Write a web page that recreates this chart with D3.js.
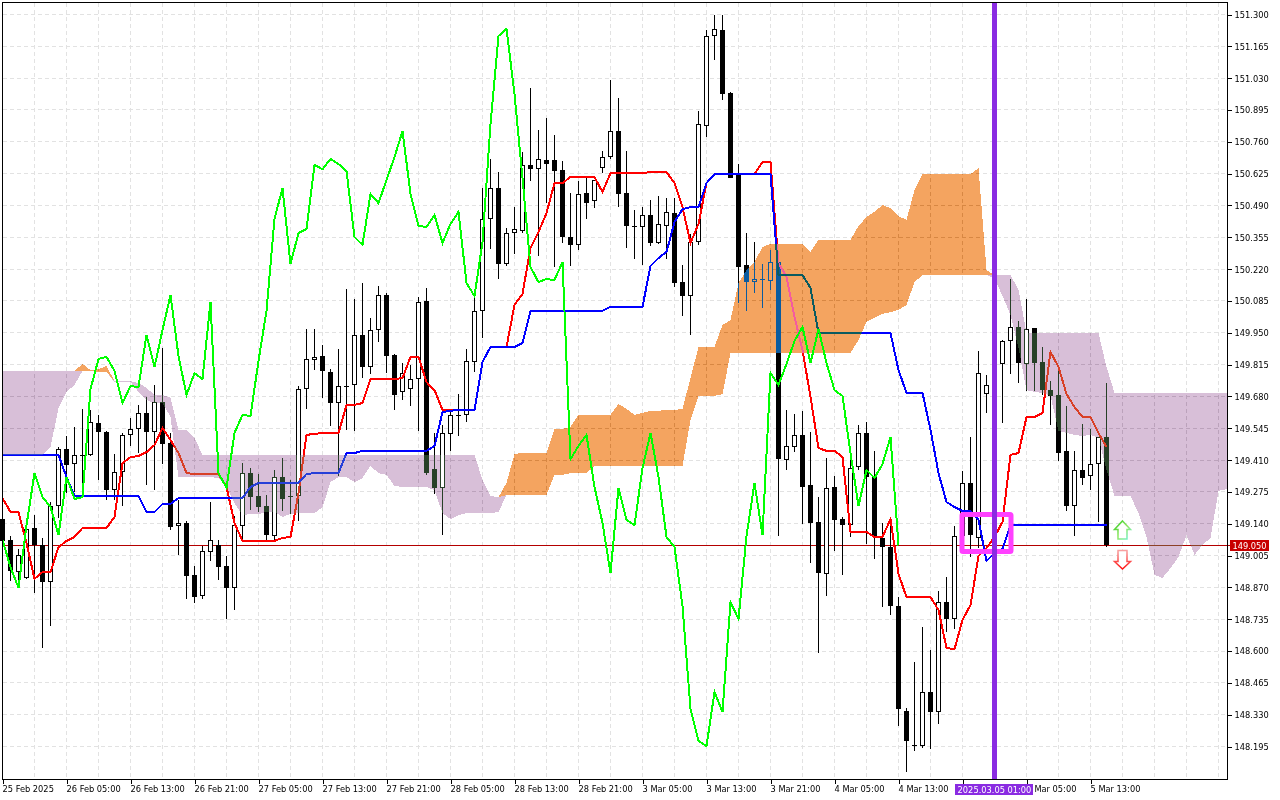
<!DOCTYPE html>
<html>
<head>
<meta charset="utf-8">
<script src="https://cdnjs.cloudflare.com/ajax/libs/d3/7.8.5/d3.min.js"></script>
<style>
  html, body { margin: 0; padding: 0; background: #fff; }
  svg { display: block; }
  text { font-family: "DejaVu Sans Condensed", "DejaVu Sans", sans-serif; font-stretch: condensed; font-size: 9.2px; fill: #000; }
</style>
</head>
<body>
<svg id="chart" width="1280" height="800"></svg>
<script>
// hourly candles, one row per ten bars
const open = [
  149.162,149.073,148.937,148.912,149.124,149.052,148.895,149.217,149.459,149.395,
  149.434,149.434,149.569,149.531,149.285,149.361,149.519,149.544,149.612,149.531,
  149.659,149.485,149.132,149.145,148.925,148.836,149.022,149.052,148.963,148.870,
  149.132,149.357,149.260,149.217,149.090,149.340,149.260,149.260,149.713,149.841,
  149.854,149.786,149.654,149.726,149.731,149.943,149.807,149.964,150.112,149.858,
  149.701,149.713,149.756,150.087,149.374,149.294,149.523,149.604,149.604,149.828,
  150.045,150.435,150.566,150.244,150.375,150.384,150.664,150.646,150.685,150.685,
  150.642,150.358,150.325,150.545,150.511,150.651,150.697,150.808,150.545,150.405,
  150.401,150.452,150.333,150.405,150.460,150.167,150.108,150.337,150.830,151.211,
  151.236,150.969,150.621,150.240,150.167,150.180,150.172,150.252,149.412,149.467,
  149.519,149.306,149.150,148.929,149.298,149.162,149.136,149.382,149.527,149.340,
  149.082,149.043,148.793,148.348,148.204,148.199,148.428,148.343,148.810,148.738,
  149.090,149.315,149.082,149.692,149.692,149.820,149.917,149.977,149.820,149.973,
  149.828,149.709,149.688,149.451,149.217,149.370,149.344,149.395,149.510
];
const high = [
  149.209,149.090,149.035,149.119,149.179,149.082,149.234,149.467,149.514,149.553,
  149.629,149.625,149.604,149.536,149.438,149.527,149.591,149.646,149.680,149.731,
  149.888,149.527,149.243,149.154,148.963,149.048,149.234,149.073,149.005,149.175,
  149.399,149.378,149.353,149.264,149.370,149.421,149.328,149.726,149.968,149.968,
  149.900,149.798,149.883,150.138,150.095,150.163,150.015,150.151,150.121,149.862,
  149.824,149.816,150.104,150.142,149.527,149.561,149.625,149.692,149.883,150.112,
  150.566,150.689,150.634,150.397,150.485,150.719,150.990,150.812,150.863,150.791,
  150.681,150.545,150.596,150.608,150.600,150.723,151.024,150.948,150.723,150.473,
  150.485,150.515,150.532,150.524,150.524,150.240,150.371,150.893,151.236,151.300,
  151.300,150.974,150.668,150.375,150.337,150.244,150.303,150.252,149.625,149.608,
  149.621,149.531,149.255,149.421,149.344,149.171,149.416,149.561,149.574,149.451,
  149.145,149.158,148.831,148.360,148.556,148.704,148.606,148.857,148.916,149.132,
  149.365,149.510,149.875,149.773,149.845,149.922,150.180,150.002,150.095,149.973,
  149.892,149.747,149.816,149.642,149.451,149.565,149.544,149.510,149.739
];
const low = [
  148.988,148.899,148.874,148.908,148.848,148.615,148.709,149.167,149.272,149.277,
  149.285,149.429,149.328,149.243,149.243,149.217,149.472,149.442,149.306,149.285,
  149.395,149.115,149.010,148.823,148.806,148.823,148.984,148.903,148.738,148.776,
  149.073,149.200,149.192,149.073,149.073,149.196,149.183,149.154,149.629,149.794,
  149.676,149.557,149.344,149.540,149.536,149.760,149.777,149.913,149.781,149.625,
  149.667,149.642,149.536,149.349,149.268,149.094,149.451,149.514,149.574,149.786,
  149.930,150.307,150.180,150.235,150.286,150.375,150.596,150.278,150.502,150.231,
  150.333,150.235,150.303,150.435,150.481,150.629,150.689,150.485,150.312,150.265,
  150.240,150.320,150.329,150.265,150.147,150.024,149.943,150.325,150.783,151.109,
  150.939,150.608,150.078,150.045,150.121,150.057,150.134,149.090,149.370,149.446,
  149.141,148.975,148.594,148.836,149.027,148.925,149.086,149.370,149.056,148.992,
  148.789,148.755,148.284,148.089,148.178,148.191,148.187,148.293,148.683,148.695,
  149.086,149.001,149.039,149.612,149.676,149.569,149.777,149.739,149.705,149.705,
  149.688,149.561,149.408,149.196,149.090,149.306,149.285,149.150,149.043
];
const close = [
  149.069,148.942,149.010,149.119,149.052,148.895,149.217,149.459,149.391,149.434,
  149.429,149.574,149.531,149.285,149.361,149.519,149.544,149.612,149.531,149.659,
  149.480,149.128,149.145,148.920,148.831,149.027,149.073,148.958,148.870,149.136,
  149.357,149.255,149.213,149.094,149.340,149.247,149.255,149.713,149.841,149.850,
  149.790,149.654,149.726,149.722,149.943,149.807,149.964,150.112,149.854,149.688,
  149.781,149.756,150.083,149.357,149.294,149.527,149.604,149.599,149.833,150.045,
  150.435,150.566,150.244,150.375,150.392,150.664,150.646,150.689,150.668,150.638,
  150.358,150.325,150.541,150.502,150.600,150.697,150.808,150.541,150.405,150.401,
  150.452,150.333,150.414,150.465,150.163,150.108,150.337,150.838,151.211,151.241,
  150.965,150.608,150.231,150.167,150.180,150.176,150.252,149.416,149.472,149.519,
  149.298,149.145,148.933,149.294,149.158,149.136,149.378,149.527,149.340,149.086,
  149.043,148.793,148.356,148.221,148.199,148.428,148.343,148.810,148.738,149.090,
  149.315,149.094,149.781,149.731,149.820,149.917,149.977,149.824,149.968,149.824,
  149.709,149.684,149.442,149.217,149.370,149.336,149.395,149.510,149.050
];

const tenkan = [
  149.251,149.192,149.192,149.060,148.908,148.937,148.937,149.043,149.069,149.086,
  149.124,149.124,149.124,149.124,149.171,149.399,149.425,149.429,149.446,149.476,
  149.548,149.497,149.442,149.357,149.353,149.353,149.353,149.353,149.298,149.145,
  149.069,149.069,149.069,149.069,149.069,149.082,149.086,149.272,149.519,149.523,
  149.527,149.527,149.527,149.646,149.646,149.654,149.756,149.756,149.756,149.756,
  149.760,149.850,149.850,149.743,149.709,149.625,149.625,149.625,149.625,149.625,
  149.828,149.892,149.892,149.892,150.070,150.117,150.312,150.379,150.460,150.587,
  150.587,150.613,150.613,150.613,150.613,150.549,150.629,150.629,150.629,150.629,
  150.629,150.634,150.634,150.634,150.587,150.485,150.333,150.414,150.587,150.625,
  150.625,150.625,150.625,150.625,150.625,150.676,150.676,150.248,150.189,150.019,
  149.879,149.680,149.463,149.451,149.451,149.425,149.107,149.107,149.107,149.086,
  149.086,149.162,148.929,148.831,148.831,148.831,148.831,148.776,148.615,148.610,
  148.734,148.797,149.005,149.039,149.086,149.150,149.434,149.442,149.595,149.595,
  149.612,149.871,149.807,149.692,149.637,149.595,149.595,149.527,149.467
];
const kijun = [
  149.434,149.434,149.434,149.434,149.434,149.434,149.434,149.434,149.340,149.260,
  149.260,149.260,149.260,149.260,149.260,149.260,149.260,149.260,149.192,149.192,
  149.226,149.226,149.251,149.251,149.251,149.251,149.251,149.251,149.251,149.251,
  149.251,149.298,149.315,149.315,149.315,149.315,149.315,149.315,149.353,149.357,
  149.357,149.357,149.357,149.442,149.442,149.451,149.451,149.451,149.451,149.451,
  149.451,149.451,149.451,149.451,149.472,149.616,149.621,149.625,149.625,149.625,
  149.828,149.892,149.892,149.892,149.892,149.909,150.045,150.045,150.045,150.045,
  150.045,150.045,150.045,150.045,150.045,150.045,150.062,150.062,150.062,150.062,
  150.062,150.235,150.269,150.295,150.422,150.477,150.485,150.485,150.587,150.625,
  150.625,150.625,150.625,150.625,150.625,150.625,150.625,150.197,150.197,150.197,
  150.197,150.142,149.951,149.951,149.951,149.951,149.951,149.951,149.951,149.951,
  149.951,149.951,149.794,149.697,149.697,149.697,149.540,149.357,149.234,149.213,
  149.196,149.196,149.158,148.984,149.018,149.035,149.136,149.136,149.136,149.136,
  149.136,149.136,149.136,149.136,149.136,149.136,149.136,149.136,149.136
];
// closes plotted 26 bars back
const chikou = [
  149.073,148.958,148.870,149.136,
  149.357,149.255,149.213,149.094,149.340,149.247,149.255,149.713,149.841,149.850,
  149.790,149.654,149.726,149.722,149.943,149.807,149.964,150.112,149.854,149.688,
  149.781,149.756,150.083,149.357,149.294,149.527,149.604,149.599,149.833,150.045,
  150.435,150.566,150.244,150.375,150.392,150.664,150.646,150.689,150.668,150.638,
  150.358,150.325,150.541,150.502,150.600,150.697,150.808,150.541,150.405,150.401,
  150.452,150.333,150.414,150.465,150.163,150.108,150.337,150.838,151.211,151.241,
  150.965,150.608,150.231,150.167,150.180,150.176,150.252,149.416,149.472,149.519,
  149.298,149.145,148.933,149.294,149.158,149.136,149.378,149.527,149.340,149.086,
  149.043,148.793,148.356,148.221,148.199,148.428,148.343,148.810,148.738,149.090,
  149.315,149.094,149.781,149.731,149.820,149.917,149.977,149.824,149.968,149.824,
  149.709,149.684,149.442,149.217,149.370,149.336,149.395,149.510,149.050
];
// cloud runs 26 bars past the last candle, cut at the chart edge
const spanA = [
  149.434,149.434,149.434,149.434,149.434,149.434,149.467,149.633,149.701,149.731,
  149.820,149.794,149.798,149.811,149.743,149.743,149.743,149.701,149.667,149.654,
  149.654,149.595,149.340,149.340,149.340,149.340,149.340,149.336,149.298,149.230,
  149.179,149.183,149.183,149.192,149.192,149.171,149.183,149.187,149.187,149.187,
  149.213,149.319,149.340,149.340,149.319,149.336,149.387,149.357,149.349,149.302,
  149.298,149.298,149.298,149.298,149.285,149.187,149.162,149.179,149.187,149.187,
  149.187,149.187,149.192,149.315,149.438,149.442,149.442,149.442,149.442,149.544,
  149.544,149.553,149.604,149.604,149.604,149.604,149.604,149.650,149.629,149.604,
  149.612,149.621,149.621,149.625,149.625,149.629,149.760,149.892,149.892,149.892,
  149.985,150.006,150.163,150.218,150.252,150.316,150.329,150.329,150.329,150.329,
  150.329,150.295,150.346,150.346,150.346,150.346,150.346,150.405,150.443,150.465,
  150.494,150.481,150.447,150.431,150.558,150.625,150.625,150.625,150.625,150.625,
  150.625,150.625,150.651,150.218,150.184,150.108,150.028,149.888,149.709,149.701,
  149.697,149.684,149.536,149.527,149.519,149.514,149.519,149.506,149.370,149.260,
  149.260,149.260,149.187,149.086,148.925,148.912,148.954,149.001,149.094,149.010,
  149.052,149.082,149.281,149.289
];
const spanB = [
  149.790,149.790,149.790,149.790,149.790,149.790,149.790,149.790,149.790,149.790,
  149.790,149.790,149.786,149.786,149.747,149.747,149.747,149.739,149.718,149.688,
  149.688,149.676,149.540,149.540,149.506,149.434,149.434,149.434,149.434,149.434,
  149.434,149.434,149.434,149.434,149.434,149.434,149.434,149.434,149.434,149.434,
  149.434,149.434,149.434,149.434,149.434,149.434,149.434,149.434,149.434,149.434,
  149.434,149.434,149.434,149.434,149.434,149.434,149.434,149.434,149.434,149.434,
  149.328,149.260,149.255,149.264,149.264,149.264,149.264,149.264,149.264,149.349,
  149.349,149.357,149.357,149.357,149.387,149.387,149.387,149.387,149.387,149.387,
  149.387,149.387,149.387,149.387,149.387,149.387,149.582,149.684,149.684,149.684,
  149.692,149.866,149.866,149.866,149.866,149.866,149.866,149.866,149.866,149.866,
  149.866,149.866,149.866,149.866,149.866,149.866,149.866,149.922,149.998,150.015,
  150.032,150.040,150.049,150.070,150.167,150.197,150.197,150.197,150.197,150.197,
  150.197,150.197,150.197,150.197,150.197,150.197,150.197,150.134,149.951,149.951,
  149.951,149.951,149.951,149.951,149.951,149.951,149.951,149.951,149.807,149.697,
  149.697,149.697,149.697,149.697,149.697,149.697,149.697,149.697,149.697,149.697,
  149.697,149.697,149.697,149.697
];

const priceTicks = [
  151.300,151.165,151.030,150.895,150.760,150.625,150.490,150.355,150.220,150.085,149.950,149.815,
  149.680,149.545,149.410,149.275,149.140,149.005,148.870,148.735,148.600,148.465,148.330,148.195
];
const timeLabels = [
  '25 Feb 2025','26 Feb 05:00','26 Feb 13:00','26 Feb 21:00','27 Feb 05:00','27 Feb 13:00',
  '27 Feb 21:00','28 Feb 05:00','28 Feb 13:00','28 Feb 21:00','3 Mar 05:00','3 Mar 13:00',
  '3 Mar 21:00','4 Mar 05:00','4 Mar 13:00','','5 Mar 05:00','5 Mar 13:00'
];
const lastPrice = 149.050;
const markedBar = 124;
const markedTime = '2025.03.05 01:00';
const boxBars = [120, 126];
const boxPrices = [149.181, 149.024];
const signalBar = 140;
const upSignalPrice = 149.154;
const downSignalPrice = 148.950;

const plot = { left: 2, top: 2, right: 1227, bottom: 779 };
const barStep = 8;
const bars = d3.range(open.length);
const cloudBars = d3.range(spanA.length);

const x = d3.scaleLinear().domain([0, 153]).range([plot.left, plot.left + 153 * barStep]);
const y = d3.scaleLinear().domain([151.3, 148.195]).range([15, 747]);
const xc = i => x(i) + 0.5;

const svg = d3.select('#chart');
svg.append('rect').attr('width', 1280).attr('height', 800).attr('fill', '#fff');

const defs = svg.append('defs');

// grid
const grid = svg.append('g').attr('shape-rendering', 'crispEdges')
  .attr('stroke', '#e2e2e2').attr('stroke-dasharray', '4,3');
grid.selectAll('.h').data(priceTicks).join('line').attr('class', 'h')
  .attr('x1', plot.left + 1).attr('x2', plot.right)
  .attr('y1', d => Math.round(y(d)) - 0.5).attr('y2', d => Math.round(y(d)) - 0.5);
grid.selectAll('.v').data(d3.range(4, 153, 4)).join('line').attr('class', 'v')
  .attr('y1', plot.top + 1).attr('y2', plot.bottom)
  .attr('x1', xc).attr('x2', xc);

// price line sits behind the candles
svg.append('line').attr('x1', plot.left).attr('x2', plot.right + 4)
  .attr('y1', Math.floor(y(lastPrice)) + 0.5).attr('y2', Math.floor(y(lastPrice)) + 0.5)
  .attr('stroke', '#b40000').attr('shape-rendering', 'crispEdges');

// candles
const candles = svg.append('g').attr('shape-rendering', 'crispEdges');
candles.selectAll('line').data(bars).join('line')
  .attr('x1', xc).attr('x2', xc)
  .attr('y1', i => y(high[i])).attr('y2', i => y(low[i]))
  .attr('stroke', '#000');
const isUp = i => close[i] > open[i];
candles.selectAll('.down').data(bars.filter(i => !isUp(i))).join('rect').attr('class', 'down')
  .attr('x', i => x(i) - 2).attr('width', 5)
  .attr('y', i => y(open[i])).attr('height', i => Math.max(1, y(close[i]) - y(open[i])))
  .attr('fill', '#000');
candles.selectAll('.up').data(bars.filter(isUp)).join('rect').attr('class', 'up')
  .attr('x', i => x(i) - 1.5).attr('width', 4)
  .attr('y', i => Math.round(y(close[i])) + 0.5)
  .attr('height', i => Math.max(2, Math.round(y(open[i])) - Math.round(y(close[i])) - 1))
  .attr('fill', '#fff').attr('stroke', '#000');

// cloud: the terminal xors the fill, difference with the inverted colour does the same here
const orangeArea = d3.area().x(xc).y0(i => y(spanB[i])).y1(i => y(Math.max(spanA[i], spanB[i])));
const thistleArea = d3.area().x(xc).y0(i => y(spanB[i])).y1(i => y(Math.min(spanA[i], spanB[i])));

svg.append('path').attr('d', thistleArea(cloudBars)).attr('fill', '#274027')
  .attr('shape-rendering', 'crispEdges').style('mix-blend-mode', 'difference');
// white candle bodies stay white inside the purple cloud
svg.selectAll('.inner').data(bars.filter(isUp)).join('rect').attr('class', 'inner')
  .attr('x', i => x(i) - 1).attr('width', 3)
  .attr('y', i => Math.round(y(close[i])) + 1)
  .attr('height', i => Math.max(1, Math.round(y(open[i])) - Math.round(y(close[i])) - 2))
  .attr('fill', '#fff').attr('shape-rendering', 'crispEdges');
svg.append('path').attr('d', orangeArea(cloudBars)).attr('fill', '#0b5b9f')
  .attr('shape-rendering', 'crispEdges').style('mix-blend-mode', 'difference');

defs.append('clipPath').attr('id', 'thistle-clip').append('path').attr('d', thistleArea(cloudBars));
defs.append('clipPath').attr('id', 'orange-clip').append('path').attr('d', orangeArea(cloudBars));

// tenkan and kijun, recoloured where they run through the cloud
const priceLine = d3.line().x((d, i) => xc(i)).y(d => y(d));
function drawLine(values, color, clipId) {
  const p = svg.append('path').attr('d', priceLine(values)).attr('fill', 'none')
    .attr('stroke', color).attr('stroke-width', 2).attr('shape-rendering', 'crispEdges');
  if (clipId) p.attr('clip-path', `url(#${clipId})`);
}
drawLine(tenkan, '#ff0000');
drawLine(tenkan, '#d84027', 'thistle-clip');
drawLine(tenkan, '#f45b9f', 'orange-clip');
drawLine(kijun, '#0000ff');
drawLine(kijun, '#2740d8', 'thistle-clip');
drawLine(kijun, '#0b5b60', 'orange-clip');
drawLine(chikou, '#00ff00');

// marked box and vertical line
svg.append('rect')
  .attr('x', x(boxBars[0])).attr('width', x(boxBars[1]) - x(boxBars[0]) + 1)
  .attr('y', y(boxPrices[0])).attr('height', y(boxPrices[1]) - y(boxPrices[0]))
  .attr('fill', 'none').attr('stroke', '#ff40ff').attr('stroke-width', 5)
  .attr('rx', 1);
svg.append('line').attr('x1', xc(markedBar)).attr('x2', xc(markedBar))
  .attr('y1', plot.top + 1).attr('y2', plot.bottom)
  .attr('stroke', '#8a2be2').attr('stroke-width', 5).attr('shape-rendering', 'crispEdges');

// signal arrows
const upGrad = defs.append('linearGradient').attr('id', 'up-grad')
  .attr('x1', 0).attr('y1', 0).attr('x2', 1).attr('y2', 1);
upGrad.append('stop').attr('offset', '0%').attr('stop-color', '#30c820');
upGrad.append('stop').attr('offset', '55%').attr('stop-color', '#8fe860');
upGrad.append('stop').attr('offset', '100%').attr('stop-color', '#70f0e0');
const downGrad = defs.append('linearGradient').attr('id', 'down-grad')
  .attr('x1', 0).attr('y1', 0).attr('x2', 0).attr('y2', 1);
downGrad.append('stop').attr('offset', '0%').attr('stop-color', '#f8a0a0');
downGrad.append('stop').attr('offset', '100%').attr('stop-color', '#ff1010');
svg.append('path')
  .attr('transform', `translate(${xc(signalBar)},${y(upSignalPrice)})`)
  .attr('d', 'M0,0L8,8.5H4.5V18H-4.5V8.5H-8Z')
  .attr('fill', '#fff').attr('stroke', 'url(#up-grad)').attr('stroke-width', 1.5);
svg.append('path')
  .attr('transform', `translate(${xc(signalBar)},${y(downSignalPrice)})`)
  .attr('d', 'M0,0L8,-7.5H4.5V-18.5H-4.5V-7.5H-8Z')
  .attr('fill', '#fff').attr('stroke', 'url(#down-grad)').attr('stroke-width', 1.5);

// frame
svg.append('rect')
  .attr('x', plot.left + 0.5).attr('y', plot.top + 0.5)
  .attr('width', plot.right - plot.left).attr('height', plot.bottom - plot.top)
  .attr('fill', 'none').attr('stroke', '#000').attr('shape-rendering', 'crispEdges');

// axes
const yAxis = d3.axisRight(y).tickValues(priceTicks).tickSize(4).tickPadding(3)
  .tickFormat(d3.format('.3f'));
const yG = svg.append('g').attr('transform', `translate(${plot.right + 0.5},-0.5)`).call(yAxis);
yG.select('.domain').remove();

const xAxis = d3.axisBottom(x).tickValues(timeLabels.map((d, i) => i * 8)).tickSize(4).tickPadding(2)
  .tickFormat(i => timeLabels[i / 8]);
const xG = svg.append('g').attr('transform', `translate(0.5,${plot.bottom + 0.5})`).call(xAxis);
xG.select('.domain').remove();
xG.selectAll('text').attr('text-anchor', 'start').attr('dx', -0.5);

svg.selectAll('.tick line').attr('stroke', '#000').attr('shape-rendering', 'crispEdges');
yG.attr('font-family', null).attr('font-size', null);
xG.attr('font-family', null).attr('font-size', null);

// last price and marked time labels
const priceY = Math.floor(y(lastPrice));
svg.append('rect').attr('x', plot.right + 3).attr('y', priceY - 5).attr('width', 39).attr('height', 11)
  .attr('fill', '#c80000');
svg.append('text').attr('x', plot.right + 22.5).attr('y', priceY + 3.5).attr('text-anchor', 'middle')
  .style('fill', '#fff').text(d3.format('.3f')(lastPrice));
svg.append('rect').attr('x', xc(markedBar) - 39.5).attr('y', 784).attr('width', 78).attr('height', 11)
  .attr('fill', '#8a2be2');
svg.append('text').attr('x', xc(markedBar)).attr('y', 792.5).attr('text-anchor', 'middle')
  .style('fill', '#fff').text(markedTime);
</script>
</body>
</html>
